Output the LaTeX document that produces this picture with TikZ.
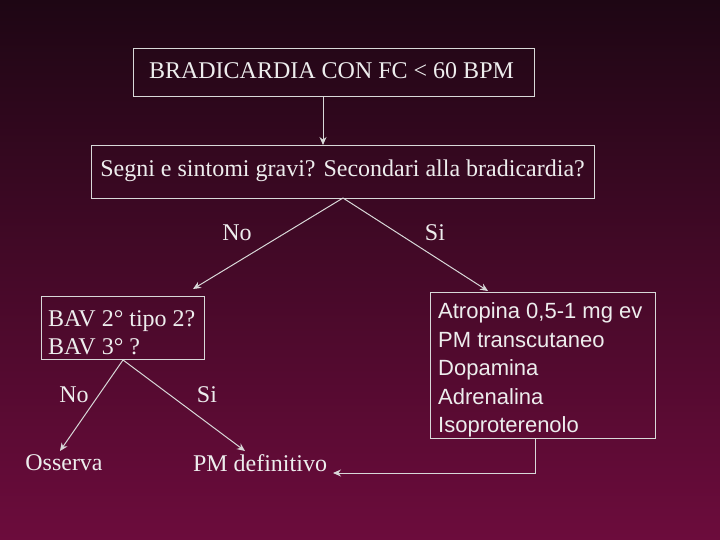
\documentclass[tikz,border=0pt]{standalone}
\usepackage{fontspec}
\setmainfont{Liberation Serif}
\newfontfamily\arialf{Liberation Sans}
\usetikzlibrary{arrows.meta}
\definecolor{txt}{HTML}{EDEDED}
\definecolor{ln}{HTML}{D8D8D8}
\definecolor{bgtop}{HTML}{1E0614}
\definecolor{bgbot}{HTML}{6C0C3C}
\begin{document}
\begin{tikzpicture}[x=1pt,y=-1pt,
  box/.style={draw=ln,line width=0.8pt,inner sep=0pt},
  lbl/.style={text=txt,font=\fontsize{24}{28}\selectfont,inner sep=0pt},
  con/.style={draw=ln,line width=1pt},
  arr/.style={con,-{Stealth[length=8pt,width=7pt]}}]
\shade[top color=bgtop,bottom color=bgbot] (0,0) rectangle (720,540);
\useasboundingbox (0,0) rectangle (720,540);
\node[box,minimum width=401pt,minimum height=48pt] (b1) at (333.5,72) {};
\node[lbl] at (331.5,71) {BRADICARDIA CON FC < 60 BPM};
\node[box,minimum width=503pt,minimum height=53pt] (b2) at (342.5,171.5) {};
\node[lbl] at (342.5,171) {Segni e sintomi gravi? Secondari alla bradicardia?};
\node[box,minimum width=163pt,minimum height=63pt] (b3) at (122.5,327.5) {};
\node[lbl,align=left,anchor=west,font=\fontsize{24}{28}\selectfont] at (48,333) {BAV 2° tipo 2?\\BAV 3° ?};
\node[box,minimum width=225pt,minimum height=146pt] (b4) at (542.5,365) {};
\node[lbl,align=left,anchor=west,font=\arialf\fontsize{22}{28.5}\selectfont] at (438,370) {Atropina 0,5-1 mg ev\\PM transcutaneo\\Dopamina\\Adrenalina\\Isoproterenolo};
\coordinate (t2) at (343,198);
\coordinate (lt) at (193,289);
\coordinate (rt) at (488,291);
\coordinate (t3) at (123,360);
\coordinate (ol) at (60,451);
\coordinate (pr) at (245,451);
\draw[arr] (b1.south -| 323,0) -- (323,145);
\draw[arr] (t2) -- (lt);
\draw[arr] (t2) -- (rt);
\draw[arr] (t3) -- (ol);
\draw[arr] (t3) -- (pr);
\node[lbl] (no1) at (237,233) {No};
\node[lbl] (si1) at (435,233) {Si};
\node[lbl] (no2) at (74,395) {No};
\node[lbl] (si2) at (207,395) {Si};
\node[lbl] (oss) at (64,463) {Osserva};
\node[lbl] (pm) at (260,463) {PM definitivo};
\coordinate (c1) at (535,473);
\draw[arr] (b4.south -| 535,0) -- (c1) -- (333,473);
\end{tikzpicture}
\end{document}
